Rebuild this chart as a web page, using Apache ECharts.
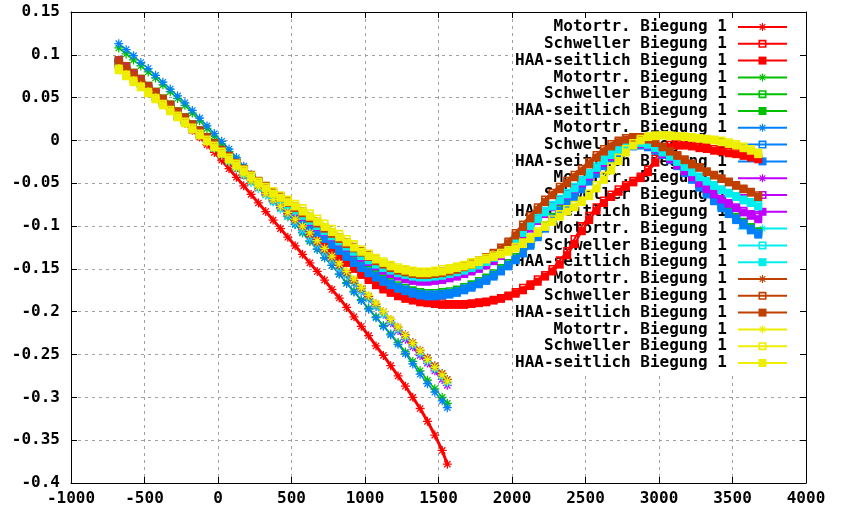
<!DOCTYPE html>
<html>
<head>
<meta charset="utf-8">
<script src="https://cdn.jsdelivr.net/npm/echarts@6/dist/echarts.min.js"></script>
<style>html,body{margin:0;padding:0;background:#fff}#c{width:841px;height:512px}</style>
</head>
<body>
<div id="c"></div>
<script>
// ---------- DATA ----------
const seriesLabels = ['Motortr. Biegung 1', 'Schweller Biegung 1', 'HAA-seitlich Biegung 1'];

const xMotortr = [-675,-625,-575,-525,-475,-425,-375,-325,-275,-225,-175,-125,-75,-25,25,75,125,175,225,275,325,375,425,475,525,575,625,675,725,775,825,875,925,975,1025,1075,1125,1175,1225,1275,1325,1375,1425,1475,1525,1560];

const xProfile = [-675,-625,-575,-525,-475,-425,-375,-325,-275,-225,-175,-125,-75,-25,25,75,125,175,225,275,325,375,425,475,525,575,625,675,725,775,825,875,925,975,1025,1075,1125,1175,1225,1275,1325,1375,1425,1475,1525,1575,1625,1675,1725,1775,1825,1875,1925,1975,2025,2075,2125,2175,2225,2275,2325,2375,2425,2475,2525,2575,2625,2675,2725,2775,2825,2875,2925,2975,3025,3075,3125,3175,3225,3275,3325,3375,3425,3475,3525,3575,3625,3675];

const redMotortr = [0.088,0.081,0.074,0.067,0.059,0.052,0.044,0.036,0.028,0.020,0.012,0.004,-0.005,-0.014,-0.023,-0.033,-0.043,-0.053,-0.063,-0.073,-0.083,-0.093,-0.103,-0.113,-0.123,-0.133,-0.143,-0.153,-0.163,-0.174,-0.184,-0.195,-0.206,-0.217,-0.228,-0.240,-0.251,-0.263,-0.275,-0.287,-0.300,-0.313,-0.328,-0.344,-0.362,-0.378];
const greenMotortr = [0.108,0.101,0.094,0.087,0.080,0.073,0.065,0.057,0.049,0.041,0.032,0.023,0.014,0.005,-0.004,-0.013,-0.022,-0.032,-0.041,-0.051,-0.060,-0.070,-0.079,-0.089,-0.098,-0.108,-0.118,-0.127,-0.137,-0.146,-0.156,-0.166,-0.176,-0.186,-0.196,-0.206,-0.216,-0.226,-0.236,-0.247,-0.258,-0.269,-0.280,-0.290,-0.300,-0.307];
const blueMotortr = [0.113,0.106,0.099,0.091,0.084,0.076,0.068,0.060,0.052,0.044,0.035,0.026,0.017,0.008,-0.001,-0.010,-0.020,-0.030,-0.040,-0.050,-0.060,-0.069,-0.078,-0.088,-0.098,-0.107,-0.117,-0.127,-0.137,-0.146,-0.156,-0.167,-0.177,-0.187,-0.197,-0.207,-0.217,-0.227,-0.238,-0.249,-0.261,-0.273,-0.284,-0.294,-0.304,-0.312];
const purpleMotortr = [0.094,0.086,0.078,0.071,0.063,0.055,0.047,0.039,0.031,0.023,0.016,0.008,0.000,-0.008,-0.016,-0.024,-0.032,-0.040,-0.047,-0.055,-0.063,-0.071,-0.079,-0.087,-0.095,-0.104,-0.113,-0.122,-0.131,-0.140,-0.149,-0.158,-0.167,-0.176,-0.185,-0.194,-0.203,-0.213,-0.222,-0.232,-0.241,-0.251,-0.260,-0.269,-0.279,-0.286];
const cyanMotortr = [0.090,0.083,0.075,0.068,0.060,0.053,0.045,0.038,0.030,0.022,0.015,0.007,-0.001,-0.009,-0.017,-0.025,-0.033,-0.041,-0.049,-0.056,-0.064,-0.072,-0.080,-0.088,-0.096,-0.105,-0.114,-0.122,-0.131,-0.140,-0.149,-0.158,-0.167,-0.176,-0.185,-0.194,-0.203,-0.212,-0.221,-0.230,-0.239,-0.249,-0.258,-0.267,-0.276,-0.283];
const brownMotortr = [0.092,0.085,0.077,0.070,0.062,0.055,0.047,0.040,0.032,0.025,0.017,0.010,0.002,-0.006,-0.014,-0.021,-0.029,-0.037,-0.045,-0.053,-0.061,-0.069,-0.077,-0.085,-0.093,-0.101,-0.110,-0.119,-0.128,-0.137,-0.146,-0.155,-0.164,-0.173,-0.182,-0.191,-0.200,-0.209,-0.218,-0.227,-0.236,-0.245,-0.254,-0.263,-0.272,-0.279];
const yellowMotortr = [0.084,0.077,0.070,0.064,0.057,0.050,0.042,0.035,0.028,0.020,0.013,0.006,-0.002,-0.009,-0.017,-0.024,-0.032,-0.039,-0.047,-0.054,-0.062,-0.069,-0.077,-0.084,-0.092,-0.100,-0.108,-0.117,-0.126,-0.135,-0.144,-0.153,-0.162,-0.172,-0.181,-0.190,-0.200,-0.209,-0.218,-0.228,-0.237,-0.246,-0.256,-0.265,-0.274,-0.281];

const redSchweller = [0.090,0.083,0.075,0.068,0.060,0.053,0.045,0.038,0.030,0.023,
0.015,0.008,0.000,-0.008,-0.015,-0.023,-0.030,-0.038,-0.045,-0.052,
-0.059,-0.066,-0.073,-0.080,-0.087,-0.095,-0.103,-0.111,-0.119,-0.127,
-0.134,-0.141,-0.148,-0.155,-0.161,-0.167,-0.172,-0.176,-0.180,-0.183,
-0.185,-0.187,-0.189,-0.190,-0.190,-0.191,-0.191,-0.191,-0.190,-0.189,
-0.188,-0.186,-0.184,-0.181,-0.177,-0.172,-0.168,-0.162,-0.157,-0.150,
-0.140,-0.129,-0.115,-0.100,-0.088,-0.078,-0.070,-0.063,-0.057,-0.052,
-0.047,-0.042,-0.034,-0.021,-0.011,-0.005,-0.004,-0.004,-0.005,-0.007,
-0.008,-0.010,-0.011,-0.013,-0.014,-0.016,-0.018,-0.020];
const redHAA = [0.088,0.081,0.073,0.066,0.058,0.051,0.043,0.036,0.028,0.021,
0.013,0.006,-0.002,-0.010,-0.017,-0.025,-0.032,-0.040,-0.047,-0.054,
-0.061,-0.068,-0.075,-0.082,-0.089,-0.097,-0.105,-0.113,-0.121,-0.129,
-0.136,-0.143,-0.150,-0.157,-0.163,-0.169,-0.174,-0.178,-0.182,-0.185,
-0.187,-0.189,-0.190,-0.191,-0.192,-0.192,-0.192,-0.192,-0.191,-0.190,
-0.189,-0.187,-0.185,-0.182,-0.179,-0.175,-0.170,-0.165,-0.159,-0.153,
-0.145,-0.134,-0.121,-0.106,-0.093,-0.082,-0.073,-0.066,-0.060,-0.054,
-0.049,-0.044,-0.037,-0.026,-0.015,-0.008,-0.006,-0.006,-0.007,-0.009,
-0.010,-0.012,-0.013,-0.015,-0.016,-0.018,-0.020,-0.022];
const greenSchweller = [0.094,0.087,0.079,0.072,0.064,0.057,0.049,0.042,0.034,0.027,
0.019,0.012,0.004,-0.004,-0.011,-0.019,-0.026,-0.034,-0.041,-0.048,
-0.055,-0.062,-0.069,-0.076,-0.083,-0.090,-0.097,-0.104,-0.111,-0.118,
-0.125,-0.132,-0.139,-0.145,-0.151,-0.156,-0.161,-0.165,-0.169,-0.172,
-0.175,-0.177,-0.178,-0.178,-0.177,-0.176,-0.174,-0.171,-0.168,-0.164,
-0.160,-0.155,-0.149,-0.143,-0.136,-0.128,-0.119,-0.109,-0.099,-0.089,
-0.080,-0.071,-0.062,-0.053,-0.044,-0.035,-0.026,-0.018,-0.012,-0.007,
-0.004,-0.004,-0.006,-0.010,-0.015,-0.021,-0.028,-0.035,-0.043,-0.051,
-0.059,-0.067,-0.075,-0.082,-0.089,-0.095,-0.101,-0.106];
const greenHAA = [0.092,0.085,0.077,0.070,0.062,0.055,0.047,0.040,0.032,0.025,
0.017,0.010,0.002,-0.006,-0.013,-0.021,-0.028,-0.036,-0.043,-0.050,
-0.057,-0.064,-0.071,-0.078,-0.085,-0.092,-0.099,-0.106,-0.113,-0.120,
-0.127,-0.134,-0.141,-0.147,-0.153,-0.158,-0.163,-0.167,-0.171,-0.174,
-0.177,-0.179,-0.180,-0.180,-0.179,-0.178,-0.176,-0.173,-0.170,-0.166,
-0.162,-0.157,-0.151,-0.145,-0.138,-0.130,-0.121,-0.111,-0.101,-0.091,
-0.082,-0.073,-0.064,-0.055,-0.046,-0.037,-0.028,-0.020,-0.013,-0.008,
-0.005,-0.005,-0.007,-0.011,-0.016,-0.022,-0.029,-0.036,-0.044,-0.052,
-0.060,-0.068,-0.076,-0.083,-0.090,-0.096,-0.102,-0.107];
const blueSchweller = [0.092,0.085,0.077,0.070,0.062,0.055,0.047,0.040,0.032,0.025,
0.017,0.010,0.002,-0.006,-0.013,-0.021,-0.028,-0.036,-0.043,-0.050,
-0.057,-0.064,-0.071,-0.078,-0.085,-0.092,-0.099,-0.106,-0.113,-0.120,
-0.127,-0.134,-0.141,-0.147,-0.153,-0.158,-0.163,-0.167,-0.171,-0.174,
-0.177,-0.179,-0.180,-0.180,-0.179,-0.178,-0.176,-0.173,-0.170,-0.166,
-0.162,-0.157,-0.151,-0.145,-0.138,-0.130,-0.121,-0.111,-0.101,-0.091,
-0.082,-0.073,-0.064,-0.055,-0.046,-0.037,-0.028,-0.020,-0.013,-0.008,
-0.005,-0.004,-0.006,-0.010,-0.015,-0.021,-0.028,-0.036,-0.044,-0.053,
-0.061,-0.069,-0.077,-0.084,-0.091,-0.097,-0.103,-0.108];
const blueHAA = [0.090,0.083,0.075,0.068,0.060,0.053,0.045,0.038,0.030,0.023,
0.015,0.008,0.000,-0.008,-0.015,-0.023,-0.030,-0.038,-0.045,-0.052,
-0.059,-0.066,-0.073,-0.080,-0.087,-0.094,-0.101,-0.108,-0.115,-0.122,
-0.129,-0.136,-0.143,-0.149,-0.155,-0.160,-0.165,-0.169,-0.173,-0.176,
-0.179,-0.181,-0.182,-0.182,-0.181,-0.180,-0.178,-0.175,-0.172,-0.168,
-0.164,-0.159,-0.153,-0.147,-0.140,-0.132,-0.123,-0.113,-0.103,-0.093,
-0.084,-0.075,-0.066,-0.057,-0.048,-0.039,-0.030,-0.022,-0.015,-0.010,
-0.007,-0.006,-0.008,-0.012,-0.017,-0.023,-0.030,-0.038,-0.046,-0.055,
-0.063,-0.071,-0.079,-0.086,-0.093,-0.099,-0.105,-0.110];
const purpleSchweller = [0.093,0.086,0.078,0.071,0.063,0.056,0.048,0.041,0.033,0.026,
0.018,0.011,0.003,-0.005,-0.012,-0.020,-0.027,-0.035,-0.042,-0.049,
-0.056,-0.063,-0.069,-0.075,-0.081,-0.087,-0.093,-0.099,-0.105,-0.111,
-0.117,-0.123,-0.129,-0.135,-0.140,-0.145,-0.150,-0.154,-0.157,-0.160,
-0.162,-0.163,-0.163,-0.162,-0.161,-0.159,-0.157,-0.154,-0.151,-0.148,
-0.144,-0.139,-0.133,-0.126,-0.118,-0.110,-0.101,-0.092,-0.084,-0.076,
-0.069,-0.062,-0.055,-0.048,-0.040,-0.032,-0.024,-0.017,-0.010,-0.005,
-0.003,-0.003,-0.005,-0.009,-0.015,-0.021,-0.028,-0.035,-0.042,-0.049,
-0.056,-0.062,-0.068,-0.073,-0.078,-0.082,-0.086,-0.089];
const purpleHAA = [0.091,0.084,0.076,0.069,0.061,0.054,0.046,0.039,0.031,0.024,
0.016,0.009,0.001,-0.007,-0.014,-0.022,-0.029,-0.037,-0.044,-0.051,
-0.058,-0.065,-0.071,-0.077,-0.083,-0.089,-0.095,-0.101,-0.107,-0.113,
-0.119,-0.125,-0.131,-0.137,-0.142,-0.147,-0.152,-0.156,-0.159,-0.162,
-0.164,-0.165,-0.165,-0.164,-0.163,-0.161,-0.159,-0.156,-0.153,-0.150,
-0.146,-0.141,-0.135,-0.128,-0.120,-0.112,-0.103,-0.094,-0.086,-0.078,
-0.071,-0.064,-0.057,-0.050,-0.042,-0.034,-0.026,-0.019,-0.012,-0.007,
-0.004,-0.004,-0.006,-0.010,-0.016,-0.022,-0.029,-0.036,-0.043,-0.050,
-0.057,-0.063,-0.069,-0.074,-0.079,-0.084,-0.088,-0.092];
const cyanSchweller = [0.090,0.083,0.075,0.068,0.061,0.053,0.046,0.039,0.031,0.024,
0.016,0.009,0.002,-0.006,-0.013,-0.020,-0.028,-0.035,-0.042,-0.049,
-0.056,-0.062,-0.068,-0.074,-0.080,-0.086,-0.092,-0.098,-0.104,-0.110,
-0.116,-0.122,-0.128,-0.133,-0.138,-0.143,-0.147,-0.150,-0.153,-0.155,
-0.157,-0.158,-0.158,-0.157,-0.156,-0.154,-0.152,-0.150,-0.147,-0.144,
-0.140,-0.135,-0.129,-0.122,-0.114,-0.106,-0.098,-0.090,-0.082,-0.075,
-0.068,-0.061,-0.054,-0.046,-0.038,-0.030,-0.022,-0.015,-0.009,-0.004,
-0.002,-0.002,-0.004,-0.008,-0.013,-0.018,-0.024,-0.030,-0.036,-0.042,
-0.047,-0.052,-0.057,-0.061,-0.065,-0.069,-0.072,-0.075];
const cyanHAA = [0.088,0.081,0.073,0.066,0.059,0.051,0.044,0.037,0.029,0.022,
0.014,0.007,0.000,-0.008,-0.015,-0.022,-0.030,-0.037,-0.044,-0.051,
-0.058,-0.064,-0.070,-0.076,-0.082,-0.088,-0.094,-0.100,-0.106,-0.112,
-0.118,-0.124,-0.130,-0.135,-0.140,-0.145,-0.149,-0.152,-0.155,-0.157,
-0.159,-0.160,-0.160,-0.159,-0.158,-0.156,-0.154,-0.152,-0.149,-0.146,
-0.142,-0.137,-0.131,-0.124,-0.116,-0.108,-0.100,-0.092,-0.084,-0.077,
-0.070,-0.063,-0.056,-0.048,-0.040,-0.032,-0.024,-0.017,-0.011,-0.006,
-0.003,-0.003,-0.005,-0.009,-0.014,-0.019,-0.025,-0.031,-0.037,-0.043,
-0.048,-0.053,-0.058,-0.062,-0.066,-0.070,-0.073,-0.077];
const brownSchweller = [0.094,0.087,0.079,0.072,0.064,0.057,0.049,0.042,0.034,0.027,
0.019,0.012,0.004,-0.003,-0.011,-0.018,-0.026,-0.033,-0.040,-0.047,
-0.053,-0.059,-0.065,-0.071,-0.077,-0.083,-0.089,-0.095,-0.101,-0.107,
-0.113,-0.119,-0.124,-0.129,-0.134,-0.139,-0.143,-0.147,-0.150,-0.152,
-0.154,-0.155,-0.155,-0.154,-0.153,-0.151,-0.149,-0.146,-0.143,-0.140,
-0.136,-0.131,-0.125,-0.118,-0.108,-0.098,-0.088,-0.078,-0.069,-0.061,
-0.054,-0.047,-0.040,-0.033,-0.025,-0.017,-0.010,-0.004,0.000,0.003,
0.004,0.004,0.002,-0.002,-0.007,-0.012,-0.017,-0.022,-0.027,-0.031,
-0.036,-0.040,-0.044,-0.048,-0.052,-0.056,-0.060,-0.064];
const brownHAA = [0.091,0.084,0.076,0.069,0.062,0.055,0.047,0.040,0.032,0.025,
0.017,0.010,0.002,-0.005,-0.013,-0.020,-0.027,-0.034,-0.041,-0.048,
-0.055,-0.061,-0.067,-0.073,-0.079,-0.085,-0.091,-0.097,-0.103,-0.109,
-0.115,-0.121,-0.126,-0.131,-0.136,-0.141,-0.145,-0.149,-0.152,-0.154,
-0.156,-0.157,-0.157,-0.156,-0.155,-0.153,-0.151,-0.148,-0.145,-0.142,
-0.138,-0.133,-0.127,-0.120,-0.111,-0.101,-0.091,-0.081,-0.072,-0.064,
-0.057,-0.050,-0.043,-0.036,-0.028,-0.020,-0.013,-0.007,-0.002,0.001,
0.003,0.003,0.001,-0.003,-0.008,-0.013,-0.018,-0.023,-0.028,-0.032,
-0.037,-0.041,-0.045,-0.049,-0.053,-0.057,-0.061,-0.066];
const yellowSchweller = [0.084,0.077,0.070,0.063,0.057,0.050,0.043,0.036,0.029,0.022,
0.015,0.008,0.001,-0.006,-0.013,-0.020,-0.027,-0.034,-0.041,-0.048,
-0.054,-0.059,-0.064,-0.069,-0.074,-0.079,-0.085,-0.091,-0.097,-0.103,
-0.109,-0.115,-0.121,-0.127,-0.132,-0.137,-0.141,-0.145,-0.148,-0.150,
-0.152,-0.153,-0.153,-0.152,-0.150,-0.149,-0.147,-0.145,-0.142,-0.140,
-0.137,-0.134,-0.131,-0.128,-0.124,-0.119,-0.113,-0.106,-0.099,-0.092,
-0.086,-0.080,-0.075,-0.070,-0.062,-0.052,-0.041,-0.030,-0.020,-0.010,
-0.003,0.002,0.005,0.006,0.006,0.006,0.005,0.005,0.004,0.003,
0.002,0.001,0.000,-0.002,-0.004,-0.007,-0.010,-0.014];
const yellowHAA = [0.082,0.075,0.068,0.062,0.055,0.048,0.041,0.034,0.027,0.020,
0.013,0.006,-0.001,-0.008,-0.015,-0.022,-0.029,-0.036,-0.043,-0.050,
-0.056,-0.062,-0.067,-0.072,-0.077,-0.083,-0.089,-0.095,-0.101,-0.107,
-0.113,-0.119,-0.125,-0.130,-0.135,-0.139,-0.143,-0.147,-0.150,-0.152,
-0.154,-0.155,-0.155,-0.154,-0.153,-0.151,-0.149,-0.147,-0.145,-0.142,
-0.139,-0.136,-0.133,-0.130,-0.126,-0.121,-0.115,-0.108,-0.101,-0.095,
-0.089,-0.083,-0.078,-0.072,-0.065,-0.056,-0.046,-0.035,-0.024,-0.014,
-0.006,0.000,0.004,0.005,0.006,0.005,0.005,0.004,0.003,0.002,
0.001,0.000,-0.002,-0.004,-0.006,-0.009,-0.012,-0.016];

// ---------- STYLE ----------
const FONT = 'DejaVu Sans Mono';
const colors = ['#ff0000', '#00c000', '#0080ff', '#c000ff', '#00eeee', '#c04000', '#eeee00'];
const motortrY = [redMotortr, greenMotortr, blueMotortr, purpleMotortr, cyanMotortr, brownMotortr, yellowMotortr];
const schwellerY = [redSchweller, greenSchweller, blueSchweller, purpleSchweller, cyanSchweller, brownSchweller, yellowSchweller];
const haaY = [redHAA, greenHAA, blueHAA, purpleHAA, cyanHAA, brownHAA, yellowHAA];
const widths = [[3, 2, 2], [1.5, 2, 1.5], [1.5, 3, 2], [3, 1.5, 1.5], [2, 2, 2], [1.5, 3, 2], [3, 1.5, 2]];

const ASTERISK = 'path://M-0.7,-5L0.7,-5L0.7,5L-0.7,5Z M-5,-0.7L5,-0.7L5,0.7L-5,0.7Z M-3.01,-3.99L3.99,3.01L3.01,3.99L-3.99,-3.01Z M-3.99,3.01L3.01,-3.99L3.99,-3.01L-3.01,3.99Z';
const OPEN_SQUARE = 'path://M0,0L10,0L10,10L0,10Z M2,2L2,8L8,8L8,2Z';
const symbols = [ASTERISK, OPEN_SQUARE, 'rect'];
const symbolSizes = [9, 8, 8];

function zip(xs, ys) { return xs.map((x, i) => [x, ys[i]]); }

const series = [];
const legendNames = [];
colors.forEach((c, ci) => {
  const groups = [[xMotortr, motortrY[ci]], [xProfile, schwellerY[ci]], [xProfile, haaY[ci]]];
  groups.forEach((g, k) => {
    const name = seriesLabels[k] + '#' + ci;
    legendNames.push(name);
    series.push({
      name: name,
      type: 'line',
      data: zip(g[0], g[1]),
      symbol: symbols[k],
      symbolSize: symbolSizes[k],
      symbolKeepAspect: true,
      showSymbol: true,
      showAllSymbol: true,
      lineStyle: { color: c, width: widths[ci][k] },
      itemStyle: { color: c, borderWidth: 0 },
      emphasis: { disabled: true },
      z: 2,
      clip: true
    });
  });
});

const labelStyle = { color: '#000', fontFamily: FONT, fontWeight: 'bold', fontSize: 16 };
const chart = echarts.init(document.getElementById('c'), null, { renderer: 'canvas' });
chart.setOption({
  animation: false,
  backgroundColor: '#fff',
  grid: { left: 71, right: 35, top: 12, bottom: 29, containLabel: false, show: false },
  xAxis: [
    { type: 'value', position: 'bottom', min: -1000, max: 4000, interval: 500, z: 0,
      axisLine: { show: true, onZero: false, lineStyle: { color: '#000', width: 1 } },
      axisTick: { show: true, inside: true, length: 6, lineStyle: { color: '#000' } },
      axisLabel: Object.assign({ margin: 8, formatter: function (v) { return String(v); } }, labelStyle),
      splitLine: { show: true, lineStyle: { color: '#a0a0a0', width: 1, type: [3, 4] } } },
    { type: 'value', position: 'top', min: -1000, max: 4000, interval: 500, z: 5,
      axisLine: { show: true, onZero: false, lineStyle: { color: '#000', width: 1 } },
      axisTick: { show: true, inside: true, length: 6, lineStyle: { color: '#000' } },
      axisLabel: { show: false }, splitLine: { show: false } }
  ],
  yAxis: [
    { type: 'value', position: 'left', min: -0.4, max: 0.15, interval: 0.05, z: 0,
      axisLine: { show: true, onZero: false, lineStyle: { color: '#000', width: 1 } },
      axisTick: { show: true, inside: true, length: 6, lineStyle: { color: '#000' } },
      axisLabel: Object.assign({ margin: 11, formatter: function (v) { return String(+v.toFixed(2)); } }, labelStyle),
      splitLine: { show: true, lineStyle: { color: '#a0a0a0', width: 1, type: [3, 4] } } },
    { type: 'value', position: 'right', min: -0.4, max: 0.15, interval: 0.05, z: 5,
      axisLine: { show: true, onZero: false, lineStyle: { color: '#000', width: 1 } },
      axisTick: { show: true, inside: true, length: 6, lineStyle: { color: '#000' } },
      axisLabel: { show: false }, splitLine: { show: false } }
  ],
  legend: {
    data: legendNames,
    orient: 'vertical',
    right: 41,
    top: 15,
    align: 'right',
    itemWidth: 49,
    itemHeight: 10,
    itemGap: 0.8,
    padding: [4, 12, 4, 2],
    backgroundColor: '#fff',
    z: 1,
    selectedMode: false,
    formatter: function (name) { return name.split('#')[0]; },
    textStyle: { color: '#000', fontFamily: FONT, fontWeight: 'bold', fontSize: 16, padding: [0, 6, 0, 0] }
  },
  series: series
});
</script>
</body>
</html>
